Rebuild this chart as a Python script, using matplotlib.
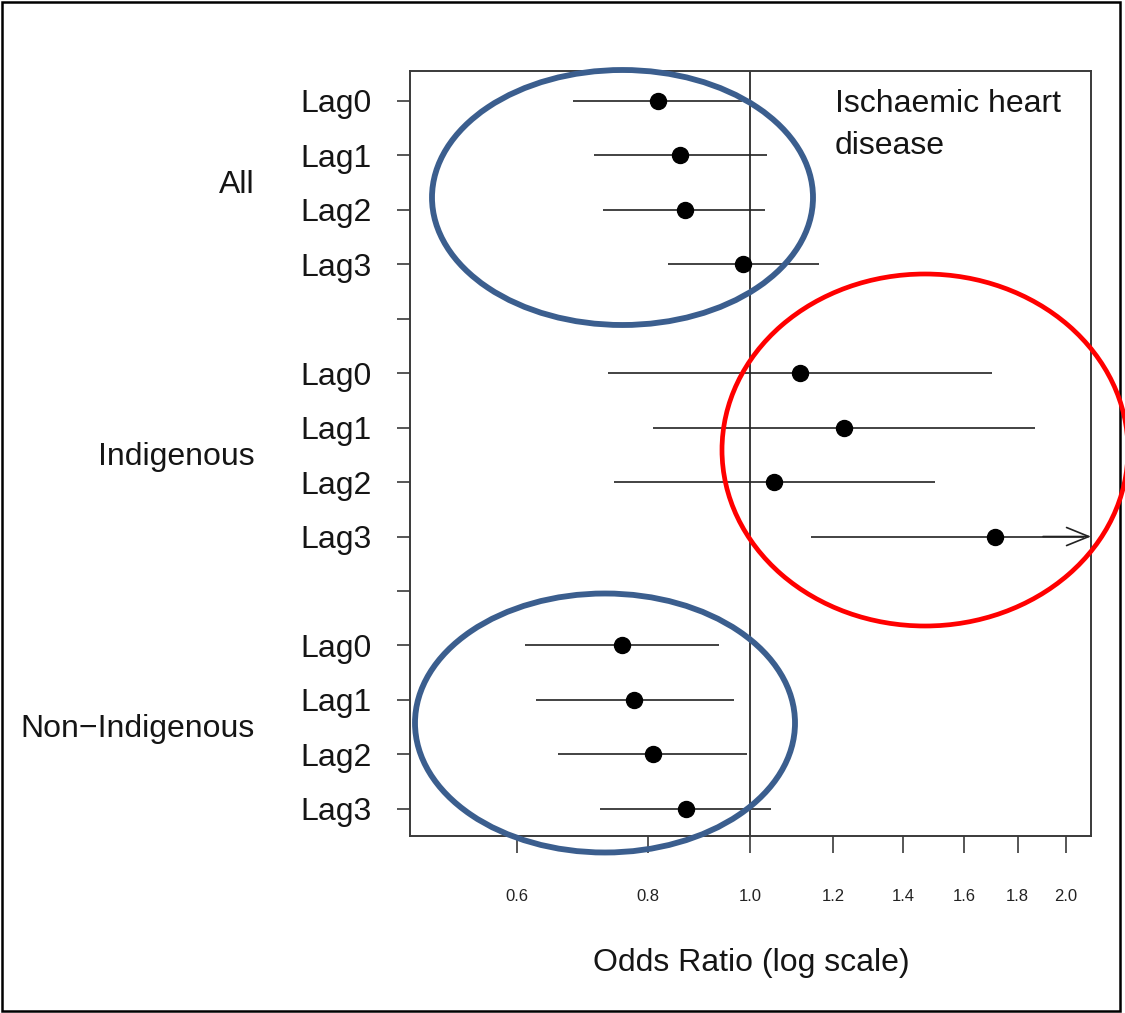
import matplotlib
matplotlib.use("Agg")
import matplotlib.pyplot as plt
from matplotlib.patches import Ellipse, Rectangle
from matplotlib.ticker import FixedLocator, NullLocator, FixedFormatter
import matplotlib.transforms as mtransforms

plt.rcParams['font.family'] = ['Liberation Sans', 'DejaVu Sans']

groups = ["All", "Indigenous", "Non\u2212Indigenous"]
lags = ["Lag0", "Lag1", "Lag2", "Lag3"]

or_all = [0.817, 0.857, 0.867, 0.985]
lo_all = [0.678, 0.710, 0.724, 0.835]
hi_all = [0.983, 1.038, 1.033, 1.164]

or_ind = [1.116, 1.229, 1.054, 1.713]
lo_ind = [0.733, 0.808, 0.742, 1.143]
hi_ind = [1.702, 1.871, 1.502, 2.60]

or_non = [0.755, 0.775, 0.808, 0.869]
lo_non = [0.610, 0.625, 0.656, 0.719]
hi_non = [0.934, 0.965, 0.993, 1.047]

x_ticks = [0.6, 0.8, 1.0, 1.2, 1.4, 1.6, 1.8, 2.0]
x_tick_labels = ["0.6", "0.8", "1.0", "1.2", "1.4", "1.6", "1.8", "2.0"]
x_lim = (0.474, 2.115)

panel_title = "Ischaemic heart\ndisease"
x_label = "Odds Ratio (log scale)"

W, H = 1125, 1013
fig = plt.figure(figsize=(W / 100, H / 100), dpi=100)
ax = fig.add_axes([410 / W, 1 - 836 / H, (1091 - 410) / W, (836 - 71) / H])

axis_col = "#3a3a3a"
txt_col = "#151515"
FS = 23
series = [(or_all, lo_all, hi_all), (or_ind, lo_ind, hi_ind), (or_non, lo_non, hi_non)]

ytick_pos = []
ytick_lab = []
for g, (ors, los, his) in enumerate(series):
    rows = []
    for i in range(len(lags)):
        y = g * 5 + i + 1
        rows.append(y)
        ytick_pos.append(y)
        ytick_lab.append(lags[i])
        if his[i] > x_lim[1]:
            ax.plot([los[i], x_lim[1] * 0.985], [y, y], color="#222222", lw=1.2, solid_capstyle='butt')
            ax.annotate("", xy=(x_lim[1], y), xytext=(x_lim[1] * 0.9, y),
                        arrowprops=dict(arrowstyle="->,head_length=1.6,head_width=0.65",
                                        color="#222222", lw=1.2, shrinkA=0, shrinkB=0))
        else:
            ax.plot([los[i], his[i]], [y, y], color="#222222", lw=1.2, solid_capstyle='butt')
        ax.plot(ors[i], y, 'o', color="black", markersize=11.5, zorder=5)
    ax.text(-0.2276, (rows[1] + rows[2]) / 2 + 0.04, groups[g],
            transform=mtransforms.blended_transform_factory(ax.transAxes, ax.transData),
            ha='right', va='center', fontsize=FS, color=txt_col)
    if g < len(series) - 1:
        ytick_pos.append(g * 5 + 5)
        ytick_lab.append("")

ax.axvline(1.0, color=axis_col, lw=1.4, zorder=1)

ax.set_xscale('log')
ax.set_xlim(*x_lim)
ax.set_ylim(14.5, 0.45)
ax.xaxis.set_major_locator(FixedLocator(x_ticks))
ax.xaxis.set_major_formatter(FixedFormatter(x_tick_labels))
ax.xaxis.set_minor_locator(NullLocator())
ax.set_yticks(ytick_pos)
ax.set_yticklabels(ytick_lab)
ax.tick_params(axis='y', length=9.5, width=1.2, color=axis_col, pad=18, labelsize=FS, labelcolor=txt_col)
ax.tick_params(axis='x', length=12, width=1.2, color=axis_col, pad=26, labelsize=12, labelcolor="#222222")
for s in ax.spines.values():
    s.set_color(axis_col)
    s.set_linewidth(1.4)

ax.text(0.624, 0.976, panel_title, transform=ax.transAxes, ha='left', va='top',
        fontsize=FS, color=txt_col, linespacing=1.5)

fig.text(751 / W, 1 - 963 / H, x_label, ha='center', va='center', fontsize=FS, color=txt_col)

# annotation ellipses (figure fraction)
fig.patches.append(Ellipse((622.5 / W, 1 - 197.5 / H), 381 / W, 255 / H, transform=fig.transFigure,
                           fill=False, edgecolor="#3b5e8e", lw=4.2, zorder=10))
fig.patches.append(Ellipse((925 / W, 1 - 450 / H), 406 / W, 352 / H, transform=fig.transFigure,
                           fill=False, edgecolor="#ff0000", lw=3.4, zorder=10))
fig.patches.append(Ellipse((605 / W, 1 - 723 / H), 380 / W, 259 / H, transform=fig.transFigure,
                           fill=False, edgecolor="#3b5e8e", lw=4.2, zorder=10))
# outer frame
fig.patches.append(Rectangle((2 / W, 2 / H), 1118 / W, 1009 / H, transform=fig.transFigure,
                             fill=False, edgecolor="black", lw=1.8, zorder=9))

fig.savefig("out.png", dpi=100)
